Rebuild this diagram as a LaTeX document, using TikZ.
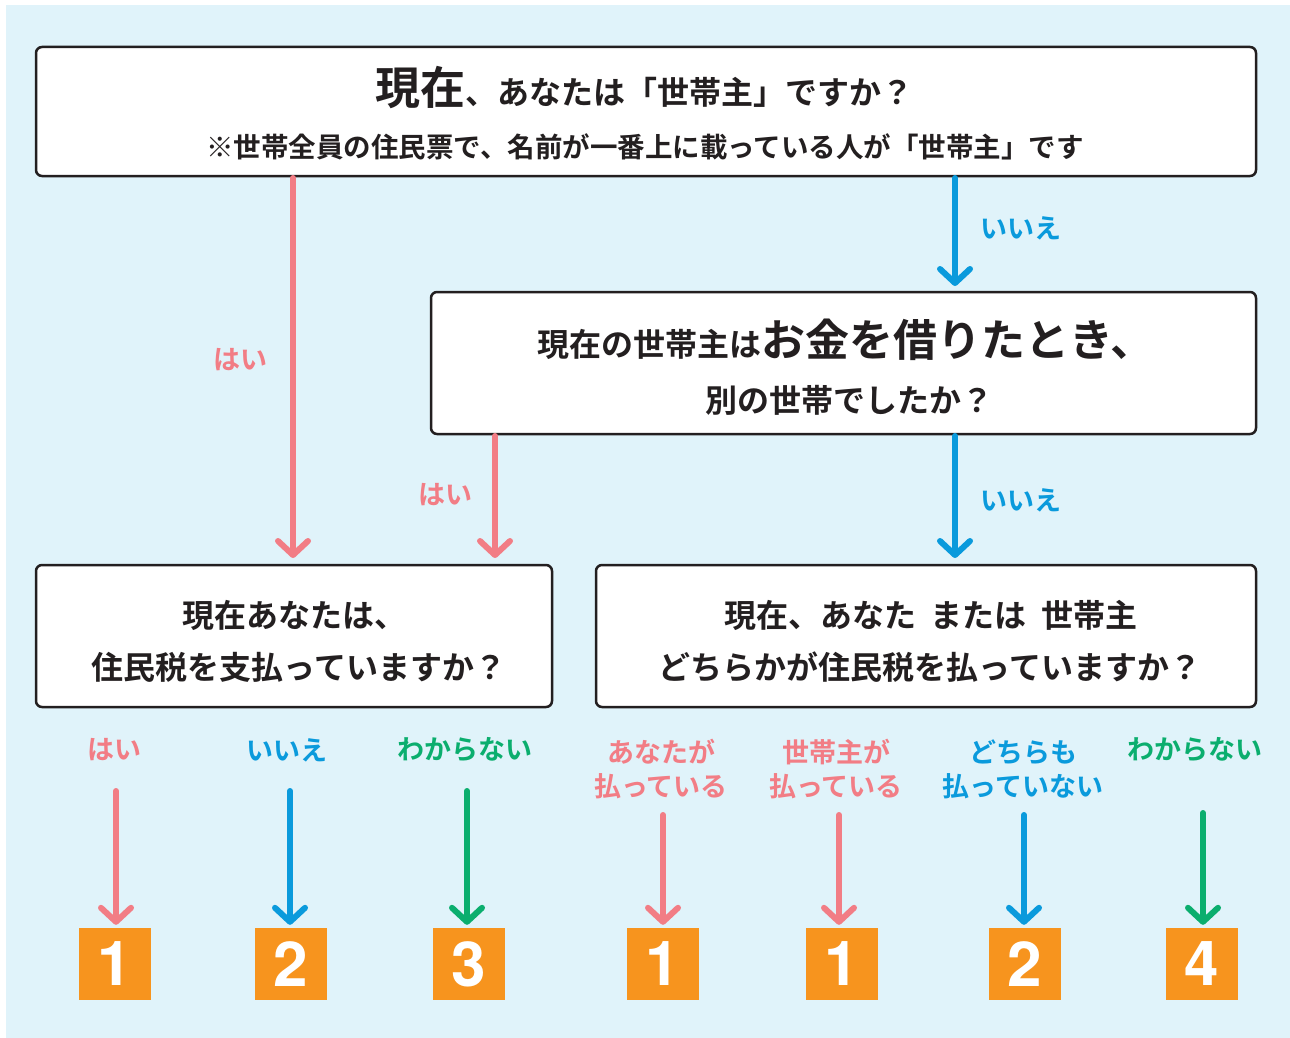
\documentclass[tikz,border=0pt]{standalone}
\usepackage{fontspec}
\setmainfont{Noto Sans CJK JP}[BoldFont={Noto Sans CJK JP Bold}]
\newfontfamily\numfont{TeX Gyre Heros}
\usetikzlibrary{arrows.meta}
\definecolor{bgblue}{HTML}{E0F3FA}
\definecolor{boxline}{HTML}{231F20}
\definecolor{pinkc}{HTML}{F27D85}
\definecolor{bluec}{HTML}{0A9ADC}
\definecolor{greenc}{HTML}{0BAE6E}
\definecolor{orangec}{HTML}{F7941E}
\definecolor{txt}{HTML}{231F20}
\tikzset{
  qbox/.style={draw=boxline, line width=2.5pt, rounded corners=6pt, fill=white},
  flow/.style={line width=6pt, line cap=round, -{Straight Barb[round,length=14pt,width=30pt]}},
  lab/.style={font=\bfseries\fontsize{27}{34}\selectfont, align=center, inner sep=0pt},
  numbox/.style={fill=orangec, minimum width=72pt, minimum height=72pt, inner sep=0pt,
    text=white, font=\numfont\bfseries\fontsize{62}{62}\selectfont},
  ptxt/.style={inner sep=0pt, text=txt, font=\bfseries\fontsize{32}{32}\selectfont}
}
\begin{document}
\begin{tikzpicture}[x=1pt,y=-1pt]
\useasboundingbox (0,0) rectangle (1290,1038);
\fill[bgblue] (6,5) rectangle (1290,1038);

% boxes
\draw[qbox] (36,47) rectangle (1256,176);
\draw[qbox] (431,292) rectangle (1256,434);
\draw[qbox] (36,565) rectangle (552,707);
\draw[qbox] (596,565) rectangle (1256,707);

% box texts
\node[ptxt] (t1) at (644,88) {{\fontsize{45}{45}\selectfont 現在}、あなたは「世帯主」ですか？};
\node[ptxt, font=\bfseries\fontsize{27.5}{27.5}\selectfont] (t1b) at (645,147) {※世帯全員の住民票で、名前が一番上に載っている人が「世帯主」です};
\node[ptxt] (t2) at (846,340) {現在の世帯主は{\fontsize{44}{44}\selectfont お金を借りたとき、}};
\node[ptxt] (t2b) at (849,400) {別の世帯でしたか？};
\node[ptxt] (t3) at (294,615) {現在あなたは、};
\node[ptxt] (t3b) at (299,667) {住民税を支払っていますか？};
\node[ptxt] (t4) at (931,615) {現在、あなた\hspace{15pt}または\hspace{15pt}世帯主};
\node[ptxt] (t4b) at (930,667) {どちらかが住民税を払っていますか？};

% coordinates for connectors
\coordinate (a1s) at (293,178); \coordinate (a1e) at (293,558);
\coordinate (a2s) at (955,178); \coordinate (a2e) at (955,286);
\coordinate (a3s) at (495,436); \coordinate (a3e) at (495,558);
\coordinate (a4s) at (955,436); \coordinate (a4e) at (955,558);

\draw[flow, pinkc] (a1s) -- (a1e);
\draw[flow, bluec] (a2s) -- (a2e);
\draw[flow, pinkc] (a3s) -- (a3e);
\draw[flow, bluec] (a4s) -- (a4e);

\node[lab, text=pinkc] (l1) at (240,360) {はい};
\node[lab, text=bluec] (l2) at (1021,228) {いいえ};
\node[lab, text=pinkc] (l3) at (445,495) {はい};
\node[lab, text=bluec] (l4) at (1021,500) {いいえ};

% bottom labels
\node[lab, text=pinkc] (b1) at (114,750) {はい};
\node[lab, text=bluec] (b2) at (287,750) {いいえ};
\node[lab, text=greenc] (b3) at (465,750) {わからない};
\node[lab, text=pinkc] (b4) at (661,769) {あなたが\\払っている};
\node[lab, text=pinkc] (b5) at (836,769) {世帯主が\\払っている};
\node[lab, text=bluec] (b6) at (1023,769) {どちらも\\払っていない};
\node[lab, text=greenc] (b7) at (1195,750) {わからない};

% number boxes
\node[numbox] (n1) at (115,964) {1};
\node[numbox] (n2) at (291,964) {2};
\node[numbox] (n3) at (469,964) {3};
\node[numbox] (n4) at (663,964) {1};
\node[numbox] (n5) at (842,964) {1};
\node[numbox] (n6) at (1025,964) {2};
\node[numbox] (n7) at (1202,964) {4};

\coordinate (c1) at (116,791); \coordinate (c2) at (290,791); \coordinate (c3) at (467,791);
\coordinate (c4) at (663,815); \coordinate (c5) at (839,815); \coordinate (c6) at (1024,815);
\coordinate (c7) at (1203,813);

\draw[flow, pinkc] (c1) -- ([yshift=3pt]c1 |- n1.north);
\draw[flow, bluec] (c2) -- ([yshift=3pt]c2 |- n2.north);
\draw[flow, greenc] (c3) -- ([yshift=3pt]c3 |- n3.north);
\draw[flow, pinkc] (c4) -- ([yshift=3pt]c4 |- n4.north);
\draw[flow, pinkc] (c5) -- ([yshift=3pt]c5 |- n5.north);
\draw[flow, bluec] (c6) -- ([yshift=3pt]c6 |- n6.north);
\draw[flow, greenc] (c7) -- ([yshift=3pt]c7 |- n7.north);
\end{tikzpicture}
\end{document}
